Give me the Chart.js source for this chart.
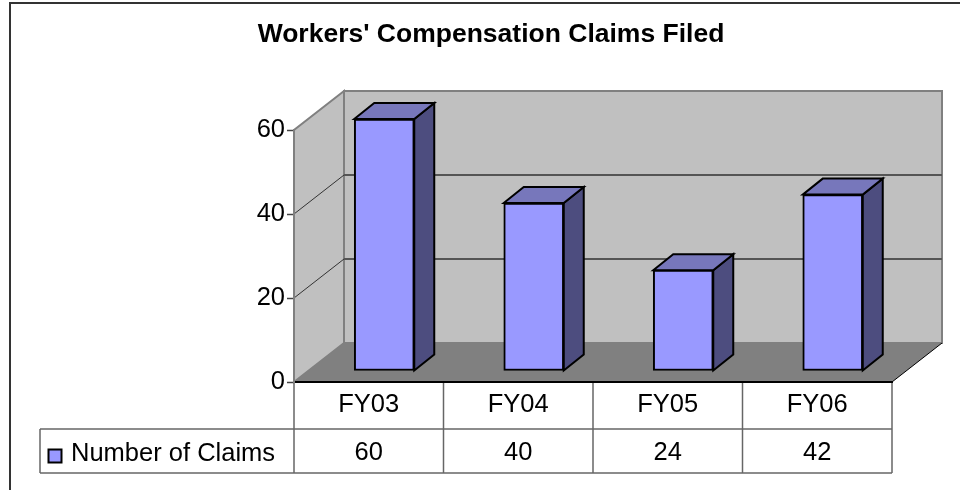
<!DOCTYPE html>
<html>
<head>
<meta charset="utf-8">
<title>Workers' Compensation Claims Filed</title>
<style>
    html, body { margin: 0; padding: 0; background: #fff; }
    canvas { display: block; }
</style>
<script src="https://cdn.jsdelivr.net/npm/chart.js"></script>
</head>
<body>
<canvas id="grafico" width="960" height="490"></canvas>
<script>
    var tituloGrafico = "Workers' Compensation Claims Filed";
    var categorias = ['FY03', 'FY04', 'FY05', 'FY06'];
    var nomeSerie = 'Number of Claims';
    var valores = [60, 40, 24, 42];
    var ticksY = [0, 20, 40, 60];

    var FONTE = '"Liberation Sans", Arial, sans-serif';

    // fake 3D offsets, in pixels
    var FUNDO_X = 50, FUNDO_Y = -39;   // depth of the walls
    var BARRA_X = 15.5, BARRA_Y = -11; // where the bar front sits on the floor
    var PROF_X = 20, PROF_Y = -16;     // depth of each bar

    function poligono(ctx, pontos, cor, linha, largura) {
        ctx.beginPath();
        ctx.moveTo(pontos[0][0], pontos[0][1]);
        for (var i = 1; i < pontos.length; i++) ctx.lineTo(pontos[i][0], pontos[i][1]);
        ctx.closePath();
        if (cor) { ctx.fillStyle = cor; ctx.fill(); }
        if (linha) {
            ctx.strokeStyle = linha;
            ctx.lineWidth = largura;
            ctx.lineJoin = 'miter';
            ctx.stroke();
        }
    }

    function traco(ctx, x1, y1, x2, y2, cor, largura) {
        ctx.beginPath();
        ctx.moveTo(x1, y1);
        ctx.lineTo(x2, y2);
        ctx.strokeStyle = cor;
        ctx.lineWidth = largura;
        ctx.stroke();
    }

    var cena3d = {
        id: 'cena3d',
        beforeDraw: function(chart) {
            var ctx = chart.ctx, a = chart.chartArea, y = chart.scales.y;
            ctx.save();

            // outer frame, runs off the page
            traco(ctx, 10, 490, 10, 3, '#333333', 2);
            traco(ctx, 9, 3, 960, 3, '#333333', 2);

            // title
            ctx.fillStyle = '#000';
            ctx.font = 'bold 26.5px ' + FONTE;
            ctx.textAlign = 'center';
            ctx.textBaseline = 'middle';
            ctx.fillText(tituloGrafico, 491, 34.5);

            // walls and floor
            poligono(ctx, [[a.left, a.bottom], [a.left, a.top], [a.left + FUNDO_X, a.top + FUNDO_Y], [a.left + FUNDO_X, a.bottom + FUNDO_Y]], '#C0C0C0', '#808080', 2);
            poligono(ctx, [[a.left + FUNDO_X, a.bottom + FUNDO_Y], [a.left + FUNDO_X, a.top + FUNDO_Y], [a.right + FUNDO_X, a.top + FUNDO_Y], [a.right + FUNDO_X, a.bottom + FUNDO_Y]], '#C0C0C0', '#808080', 2);
            poligono(ctx, [[a.left, a.bottom], [a.left + FUNDO_X, a.bottom + FUNDO_Y], [a.right + FUNDO_X, a.bottom + FUNDO_Y], [a.right, a.bottom]], '#808080');
            traco(ctx, a.right, a.bottom, a.right + FUNDO_X, a.bottom + FUNDO_Y, '#000', 1);

            // grid lines on both walls
            ticksY.forEach(function(v) {
                if (v === ticksY[0] || v === ticksY[ticksY.length - 1]) return;
                var py = y.getPixelForValue(v);
                traco(ctx, a.left, py, a.left + FUNDO_X, py + FUNDO_Y, '#333333', 1);
                traco(ctx, a.left + FUNDO_X, py + FUNDO_Y, a.right + FUNDO_X, py + FUNDO_Y, '#555555', 2);
            });

            desenharTabela(chart);
            ctx.restore();
        },
        beforeDatasetsDraw: function(chart) {
            var ctx = chart.ctx;
            ctx.save();
            ctx.translate(BARRA_X, BARRA_Y);
            // side and top faces go in first, the library draws the front over them
            chart.getDatasetMeta(0).data.forEach(function(barra) {
                var p = barra.getProps(['x', 'y', 'base', 'width']);
                var e = p.x - p.width / 2, d = p.x + p.width / 2;
                poligono(ctx, [[d, p.y], [d + PROF_X, p.y + PROF_Y], [d + PROF_X, p.base + PROF_Y], [d, p.base]], '#4D4D7F', '#000', 2);
                poligono(ctx, [[e, p.y], [e + PROF_X, p.y + PROF_Y], [d + PROF_X, p.y + PROF_Y], [d, p.y]], '#7777BB', '#000', 2);
            });
        },
        afterDatasetsDraw: function(chart) {
            chart.ctx.restore();
        }
    };

    // data table under the plot
    function desenharTabela(chart) {
        var ctx = chart.ctx, a = chart.chartArea, x = chart.scales.x;
        var linha1 = 429, linha2 = 473, inicio = 40;
        var passo = (a.right - a.left) / categorias.length;
        var cor = '#666666';

        traco(ctx, inicio, linha1, a.right, linha1, cor, 1.5);
        traco(ctx, inicio, linha2, a.right, linha2, cor, 1.5);
        traco(ctx, inicio, linha1, inicio, linha2, cor, 1.5);
        for (var i = 0; i <= categorias.length; i++) {
            traco(ctx, a.left + i * passo, a.bottom, a.left + i * passo, linha2, cor, 1.5);
        }

        ctx.fillStyle = '#000';
        ctx.font = '25.5px ' + FONTE;
        ctx.textBaseline = 'middle';
        ctx.textAlign = 'center';
        valores.forEach(function(v, i) {
            ctx.fillText(String(v), x.getPixelForValue(i), 453);
        });

        // legend key
        ctx.textAlign = 'left';
        ctx.fillText(nomeSerie, 71, 454);
        ctx.fillStyle = '#9999FF';
        ctx.fillRect(48.5, 449.5, 13, 13);
        ctx.strokeStyle = '#000';
        ctx.lineWidth = 2;
        ctx.strokeRect(48.5, 449.5, 13, 13);
    }

    new Chart(document.getElementById('grafico').getContext('2d'), {
        type: 'bar',
        data: {
            labels: categorias,
            datasets: [{
                label: nomeSerie,
                data: valores,
                backgroundColor: '#9999FF',
                borderColor: '#000',
                borderWidth: 2,
                borderSkipped: false,
                barThickness: 60,
                clip: false
            }]
        },
        options: {
            responsive: false,
            animation: false,
            layout: { padding: { left: 0, right: 68, top: 130, bottom: 0 } },
            plugins: {
                legend: { display: false },
                title: { display: false },
                tooltip: { enabled: false }
            },
            scales: {
                x: {
                    afterFit: function(scale) { scale.height = 108; },
                    grid: { display: false, drawTicks: false },
                    border: { display: true, color: '#000', width: 2 },
                    ticks: { color: '#000', padding: 8, font: { family: FONTE, size: 25.5 }, maxRotation: 0 }
                },
                y: {
                    min: ticksY[0],
                    max: ticksY[ticksY.length - 1],
                    afterFit: function(scale) { scale.width = 294; },
                    afterBuildTicks: function(scale) {
                        scale.ticks = ticksY.map(function(v) { return { value: v }; });
                    },
                    grid: { drawOnChartArea: false, drawTicks: true, tickLength: 7, tickColor: '#444444', tickWidth: 1.5 },
                    border: { display: true, color: '#808080', width: 2 },
                    ticks: { color: '#000', padding: 2, font: { family: FONTE, size: 25.5 } }
                }
            }
        },
        plugins: [cena3d]
    });
</script>
</body>
</html>
